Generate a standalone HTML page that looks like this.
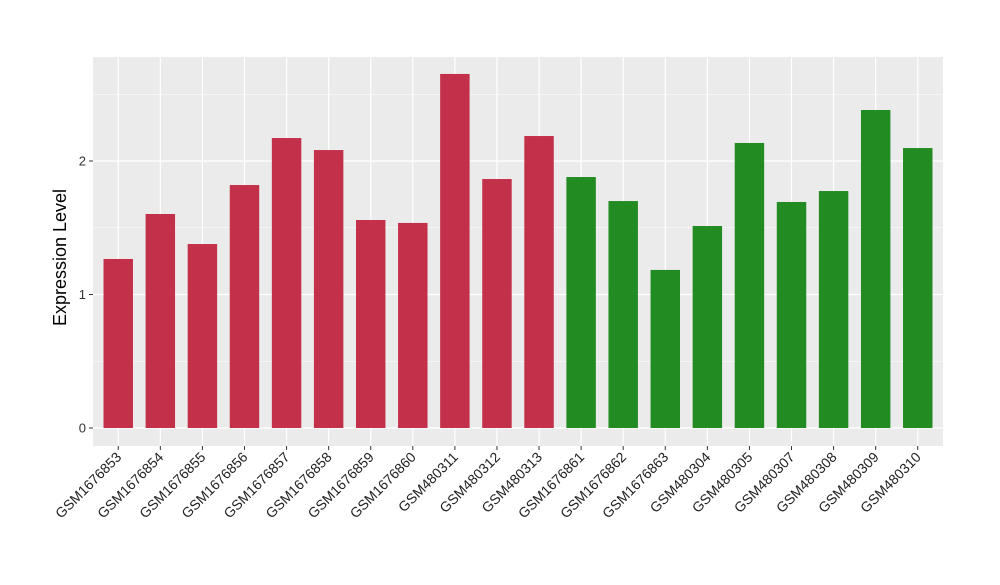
<!DOCTYPE html>
<html><head><meta charset="utf-8"><style>
body{margin:0;background:#fff;}
svg text{font-family:"Liberation Sans",Arial,sans-serif;}
</style></head><body>
<svg id="chart" width="1000" height="580"></svg>
<script>
const categories=["GSM1676853","GSM1676854","GSM1676855","GSM1676856","GSM1676857","GSM1676858","GSM1676859","GSM1676860","GSM480311","GSM480312","GSM480313","GSM1676861","GSM1676862","GSM1676863","GSM480304","GSM480305","GSM480307","GSM480308","GSM480309","GSM480310"];
const values=[1.266,1.603,1.378,1.82,2.172,2.082,1.558,1.536,2.652,1.865,2.187,1.88,1.70,1.184,1.513,2.135,1.693,1.775,2.382,2.097];
const groups=["red","red","red","red","red","red","red","red","red","red","red","green","green","green","green","green","green","green","green","green"];
const yTicks=[0,1,2];
const yMinor=[0.5,1.5,2.5];
const colors={red:"#C3304A",green:"#228B22"};
const NS="http://www.w3.org/2000/svg";
const svg=document.getElementById("chart");
const P={l:93,r:943,t:57,b:446};
const y0=428,ppu=133.5;
const yS=v=>y0-v*ppu;
const step=(P.r-P.l)/(categories.length+0.2);
const xS=i=>P.l+(i+0.6)*step;
function mk(t,a){const e=document.createElementNS(NS,t);for(const k in a)e.setAttribute(k,a[k]);svg.appendChild(e);return e;}
let e=mk("rect",{x:P.l,y:P.t,width:P.r-P.l,height:P.b-P.t,fill:"#EBEBEB"});


yMinor.forEach(v=>{const l=mk("line",{x1:P.l,x2:P.r,y1:yS(v),y2:yS(v),stroke:"#fff","stroke-width":0.6});

});
yTicks.forEach(v=>{const l=mk("line",{x1:P.l,x2:P.r,y1:yS(v),y2:yS(v),stroke:"#fff","stroke-width":1.2});


const tk=mk("line",{x1:P.l-4,x2:P.l,y1:yS(v),y2:yS(v),stroke:"#333","stroke-width":1});


const t=mk("text",{x:P.l-7,y:yS(v)+4.5,"text-anchor":"end","font-size":13,fill:"#333"});t.textContent=v;

});
categories.forEach((c,i)=>{const l=mk("line",{x1:xS(i),x2:xS(i),y1:P.t,y2:P.b,stroke:"#fff","stroke-width":1.2});

});
const bw=step*0.7;
categories.forEach((c,i)=>{
const b=mk("rect",{x:xS(i)-bw/2,y:yS(values[i]),width:bw,height:yS(0)-yS(values[i]),fill:colors[groups[i]]});


const tk=mk("line",{x1:xS(i),x2:xS(i),y1:P.b,y2:P.b+4,stroke:"#333","stroke-width":1});


const t=mk("text",{x:xS(i)+4,y:P.b+12,"text-anchor":"end","font-size":14,fill:"#222",transform:`rotate(-45 ${xS(i)+4} ${P.b+12})`});t.textContent=c;

});
const yt=mk("text",{x:66,y:(P.t+P.b)/2+6,"text-anchor":"middle","font-size":18,fill:"#000",transform:`rotate(-90 66 ${(P.t+P.b)/2+6})`});yt.textContent="Expression Level";


</script>
</body></html>
